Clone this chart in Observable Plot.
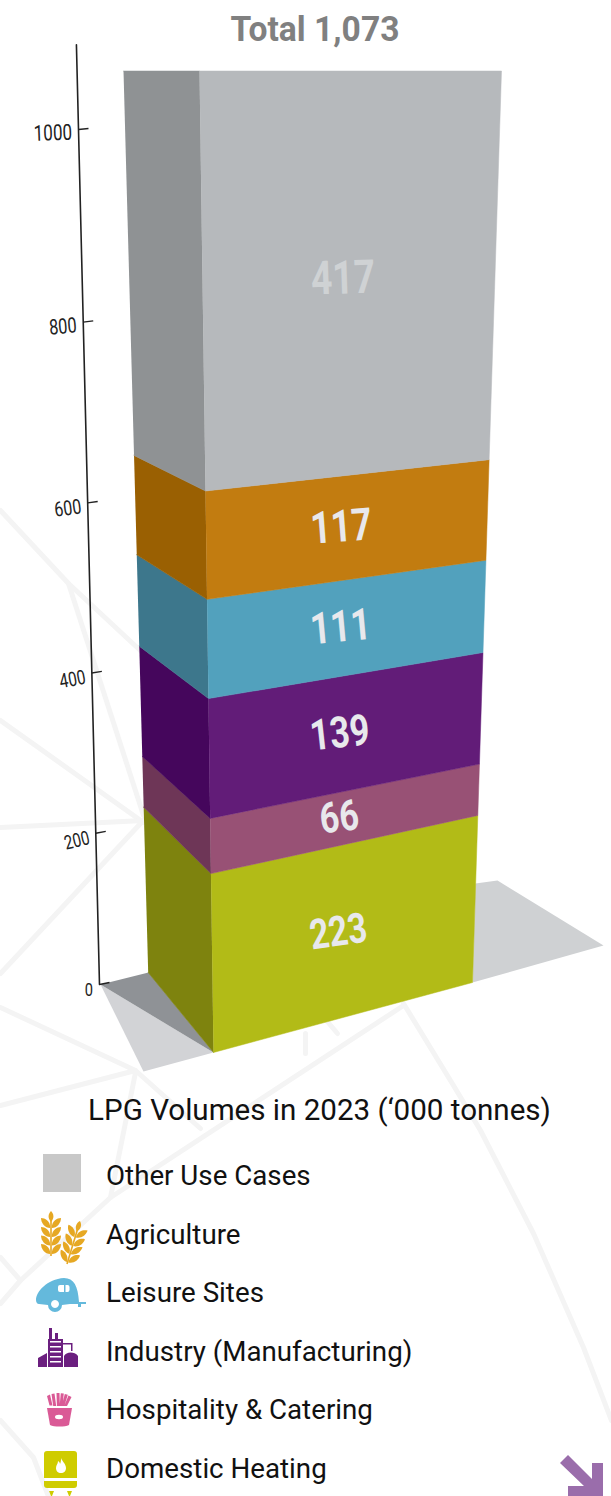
<!DOCTYPE html>
<html>
<head>
<meta charset="utf-8">
<script src="https://cdn.jsdelivr.net/npm/d3@7"></script>
<script src="https://cdn.jsdelivr.net/npm/@observablehq/plot@0.6"></script>
<style>
  html, body { margin: 0; padding: 0; background: #fff; }
  svg { display: block; }
</style>
</head>
<body>
<div id="chart"></div>
<script>
// LPG volumes in 2023, thousand tonnes, stacked from the floor upward
const categories = ["Domestic Heating", "Hospitality & Catering", "Industry (Manufacturing)", "Leisure Sites", "Agriculture", "Other Use Cases"];
const volumes = [223, 66, 139, 111, 117, 417];
const frontColors = ["#b2bb17", "#985175", "#621c78", "#52a1bd", "#c27c10", "#b6b9bc"];
const sideColors = ["#7e830e", "#6e3657", "#45065c", "#3d778c", "#9a6002", "#8f9294"];
const axisTicks = [0, 200, 400, 600, 800, 1000];
const total = 1073;
const chartTitle = "Total 1,073";
const legendTitle = "LPG Volumes in 2023 (‘000 tonnes)";

// Paper-space polylines of the faint network behind the chart
const networkLines = [
  [[0, 510], [68, 583], [142, 652]],
  [[68, 583], [143, 815]],
  [[0, 720], [143, 822]],
  [[0, 827], [143, 820]],
  [[140, 823], [0, 973]],
  [[0, 1007], [135, 1070], [200, 1128]],
  [[0, 1105], [135, 1070]],
  [[135, 1072], [110, 1197]],
  [[403, 1005], [110, 1197], [20, 1280], [0, 1303]],
  [[0, 1257], [20, 1280]],
  [[0, 1420], [33, 1457], [48, 1496]],
  [[305, 1033], [305, 1053]],
  [[326, 1020], [337, 1033]],
  [[403, 1003], [453, 1085], [480, 1130], [533, 1233], [583, 1347], [611, 1420]]
];

// Shadow shapes on the floor plane
const floorShapes = [
  {fill: "#d2d3d6", points: [[100, 984], [213, 1052], [143, 1071]]},
  {fill: "#8f9296", points: [[100, 984], [148, 972], [213, 1052]]},
  {fill: "#cfd1d3", points: [[472, 982], [475, 883], [497, 880], [603, 945]]}
];

// Visible vertical edges of the box and the axis, between value 0 and the total,
// each with its own foreshortening factor
const backEdge = {x0: 147.7, y0: 972, x1: 123, y1: 70.5, c: -0.000135};
const frontEdge = {x0: 213, y0: 1052, x1: 199, y1: 70.5, c: -0.00014};
const rightEdge = {x0: 472, y0: 982, x1: 501, y1: 70.5, c: -0.000135};
const axisEdge = {x0: 99, y0: 984, x1: 76.2, y1: 55.6, c: -0.00014};

function depth(edge, v) { return 1 + edge.c * v; }
function project(edge, v) {
  const end = depth(edge, total);
  const ax = (edge.x1 * end - edge.x0) / total;
  const ay = (edge.y1 * end - edge.y0) / total;
  return [(edge.x0 + ax * v) / depth(edge, v), (edge.y0 + ay * v) / depth(edge, v)];
}

const stacked = [];
volumes.reduce((base, value, i) => {
  stacked.push({i, value, base, top: base + value, mid: base + value / 2});
  return base + value;
}, 0);

function faceRows(edgeA, edgeB, colors, prefix) {
  return stacked.flatMap(s => [
    project(edgeA, s.base), project(edgeB, s.base), project(edgeB, s.top), project(edgeA, s.top)
  ].map(([x, y]) => ({x, y, fill: colors[s.i], face: prefix + s.i})));
}
const faces = [
  ...faceRows(backEdge, frontEdge, sideColors, "side"),
  ...faceRows(frontEdge, rightEdge, frontColors, "front")
];

const valueLabels = stacked.map(s => {
  const f = project(frontEdge, s.mid), r = project(rightEdge, s.mid);
  const t = 0.48;
  return {
    x: f[0] + (r[0] - f[0]) * t,
    y: f[1] + (r[1] - f[1]) * t - 1.5,
    text: String(s.value),
    angle: Math.atan2(r[1] - f[1], r[0] - f[0]) * 180 / Math.PI * 0.6,
    size: 41 / depth(frontEdge, s.mid),
    fill: s.i === 5 ? "#cfd2d4" : "#e8e8ec"
  };
});

const axisTop = 1084;
const axisLine = [0, axisTop].map(v => project(axisEdge, v));
const tickRows = axisTicks.map(v => {
  const [x, y] = project(axisEdge, v);
  return {
    x, y, x2: x + 10, y2: y - 1 - (1000 - v) / 1000,
    text: String(v),
    tx: x - 6.5, ty: y + 3 + (1000 - v) / 1000 * 2,
    angle: v === 0 ? 0 : -16 + 0.014 * v,
    size: 19 / depth(axisEdge, v)
  };
});

// Legend rows read top to bottom from the last stacked category to the first
const legendRows = categories.map((name, i) => ({name, row: categories.length - 1 - i}));
const legendTop = 1175.5, legendStep = 58.6;

const font = "Roboto, sans-serif";

// Narrows each drawn text horizontally, keeping its anchor in place
const squeeze = sx => (index, scales, values, dimensions, context, next) => {
  const g = next(index, scales, values, dimensions, context);
  g.querySelectorAll("text").forEach(t => {
    t.setAttribute("transform", `${t.getAttribute("transform") || ""} scale(${sx},1)`);
  });
  return g;
};

// Pictograms of the legend and the corner arrow, drawn as plain SVG paths
const iconShapes = [
  {c: "#c8c8c8", d: "M43,1154H81V1192H43Z"},
  // caravan
  {c: "#64b9dc", d: "M36,1300C36,1292 47,1279 64,1278C74,1278 78,1286 79,1302L86,1302L86,1304L70,1304L62,1305A7,7 0 0 1 48,1305L39,1304C37,1304 36,1302 36,1300Z"},
  {c: "#fff", d: "M60,1285h4v7h-4a2,2 0 0 1 -2,-2v-3a2,2 0 0 1 2,-2ZM65.5,1285h2a2,2 0 0 1 2,2v3a2,2 0 0 1 -2,2h-2Z"},
  {c: "#fff", d: "M55,1300a4,4 0 1 0 .01,0Z"},
  {c: "#64b9dc", d: "M78,1302h3v5h-3Z"},
  // factory
  {c: "#6b1f7f", d: "M48,1367V1339H49V1328H52V1339H55V1333H58V1339H63V1367ZM38,1367V1358L47,1353V1367ZM64,1367V1356C66,1352 74,1351 78,1356V1367Z"},
  {c: "#6b1f7f", d: "M63,1343H72.5V1351H71V1344.5H63Z"},
  {c: "#fff", d: "M50,1341h11v1.5h-11ZM50,1346h11v1.5h-11ZM50,1351h11v1.5h-11ZM50,1356h11v1.5h-11ZM50,1361h11v1.5h-11Z"},
  // fries
  {c: "#da5a96", d: "M47,1408H72L69,1425C65,1427 54,1427 50,1425Z"},
  {c: "#fff", d: "M55,1417a4,2.2 0 1 0 8,0a4,2.2 0 1 0 -8,0Z"},
  {c: "#da5a96", d: "M47,1396l3,-1.500l2.500,11h-3ZM51.500,1394l3,-.6l1.700,12.600h-3ZM56.500,1393h3l.4,13h-3ZM60.800,1393.200l3,.3l-1.400,12.500h-2.800ZM64.800,1394l3,.8l-3.500,11.200h-2.600ZM68.500,1395.500l3,1.500l-4.500,9h-2.800Z"},
  // water heater
  {c: "#cfcc00", d: "M47,1451H74a3,3 0 0 1 3,3V1478H44V1454a3,3 0 0 1 3,-3Z"},
  {c: "#cfcc00", d: "M44,1481H77V1485a3,3 0 0 1 -3,3H47a3,3 0 0 1 -3,-3Z"},
  {c: "#cfcc00", d: "M49,1491H54L52,1496H51ZM67,1491H72L70,1496H69Z"},
  {c: "#fff", d: "M61,1458C62,1461 66,1464 66,1468C66,1471 64,1473 61,1473C58,1473 56,1471 56,1468C56,1465 58,1464 58,1461C59.500,1462 60,1463 60,1464C61,1462 61,1460 61,1458Z"},
  // arrow
  {c: "#9a6dab", d: "M568,1455L592,1479V1463H603V1496H568V1486H584L560,1463Z"}
];

// Wheat ears: a stalk with paired leaves, set along the given axis
function wheat(tipX, tipY, endX, endY, color) {
  const dx = endX - tipX, dy = endY - tipY, len = Math.hypot(dx, dy);
  const angle = Math.atan2(dy, dx) * 180 / Math.PI - 90;
  const g = d3.create("svg:g").attr("transform", `translate(${tipX},${tipY}) rotate(${angle})`);
  g.append("path").attr("fill", color).attr("d", `M-.8,8H.8V${len}H-.8Z`);
  g.append("path").attr("fill", color).attr("d", "M0,0C3,3 3.500,7 0,11C-3.500,7 -3,3 0,0Z");
  for (const y of [10, 19, 27.500, 36]) {
    for (const s of [-1, 1]) {
      g.append("path").attr("fill", color)
        .attr("d", `M${s * 0.8},${y + 6}C${s * 1},${y} ${s * 6},${y - 3} ${s * 10},${y - 3}C${s * 10},${y + 2} ${s * 6},${y + 7} ${s * 0.8},${y + 7}Z`);
    }
  }
  return g.node();
}

function iconMark() {
  const g = d3.create("svg:g");
  g.selectAll("path").data(iconShapes).join("path").attr("fill", d => d.c).attr("d", d => d.d);
  g.append(() => wheat(51, 1211, 51, 1256, "#e6a823"));
  g.append(() => wheat(80, 1221, 67, 1264, "#e6a823"));
  return g.node();
}

const chart = Plot.plot({
  width: 611,
  height: 1496,
  margin: 0,
  style: {background: "#fff", fontFamily: font},
  x: {type: "identity", axis: null},
  y: {type: "identity", axis: null},
  color: {type: "identity"},
  marks: [
    // faint network
    networkLines.map(line => Plot.line(line, {x: d => d[0], y: d => d[1], stroke: "#f4f4f4", strokeWidth: 5, strokeLinejoin: "miter"})),
    // floor shadows
    floorShapes.map(s => Plot.line(s.points, {x: d => d[0], y: d => d[1], fill: s.fill, stroke: null})),
    // box faces
    Plot.line(faces, {x: "x", y: "y", z: "face", fill: d => d.fill, stroke: d => d.fill, strokeWidth: 0.5}),
    // value axis
    Plot.line(axisLine, {x: d => d[0], y: d => d[1], stroke: "#222", strokeWidth: 1.6}),
    Plot.link(tickRows, {x1: "x", y1: "y", x2: "x2", y2: "y2", stroke: "#222", strokeWidth: 1.4}),
    Plot.text(tickRows, {x: "tx", y: "ty", text: "text", rotate: "angle", fontSize: "size", textAnchor: "end", fill: "#222", lineAnchor: "middle", render: squeeze(0.77)}),
    // value labels
    Plot.text(valueLabels, {x: "x", y: "y", text: "text", rotate: "angle", fontSize: "size", fontWeight: "bold", fill: d => d.fill, lineAnchor: "middle", render: squeeze(0.8)}),
    // headings
    Plot.text([chartTitle], {x: () => 314.5, y: () => 29, text: d => d, fontSize: 35, fontWeight: "bold", fill: "#808080", lineAnchor: "middle", render: squeeze(0.96)}),
    Plot.text([legendTitle], {x: () => 319, y: () => 1110, text: d => d, fontSize: 29, fill: "#111", lineAnchor: "middle", render: squeeze(1.02)}),
    // legend
    Plot.text(legendRows, {x: () => 105.5, y: d => legendTop + d.row * legendStep, text: "name", fontSize: 28, fill: "#111", textAnchor: "start", lineAnchor: "middle", render: squeeze(0.99)}),
    iconMark
  ]
});
document.getElementById("chart").appendChild(chart);
</script>
</body>
</html>
